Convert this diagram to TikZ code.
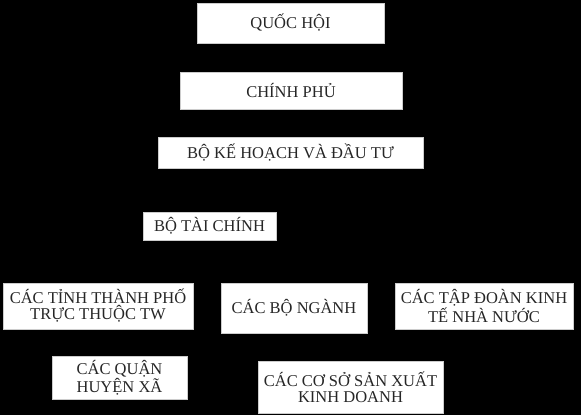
\documentclass[tikz,border=0pt]{standalone}
\usepackage{fontspec}
\setmainfont{Liberation Serif}
\begin{document}
\begin{tikzpicture}
[x=1pt,y=-1pt,
organ/.style={shape=rectangle,fill=white,draw=gray!40,line width=0.3pt,inner sep=1pt,align=center,
  font=\fontsize{16.5}{16}\selectfont,text=black!85}]

%% background
\fill[black] (0,0) rectangle (581,415);
\useasboundingbox (0,0) rectangle (581,415);

%% nodes or vertices
\foreach \nodename/\x/\y/\w/\h/\label in {
quochoi/290.5/23/187/40/{QUỐC HỘI},
chinhphu/291/90.5/222/37/{CHÍNH PHỦ},
bokehoach/290.5/152.5/265/31/{BỘ KẾ HOẠCH VÀ ĐẦU TƯ},
botaichinh/209.5/226/133/28/{BỘ TÀI CHÍNH},
cactinh/98/306/190/46/{CÁC TỈNH THÀNH PHỐ\\TRỰC THUỘC TW},
cacbo/294/308/146/50/{CÁC BỘ NGÀNH},
tapdoan/484/306/178/46/{CÁC TẬP ĐOÀN KINH\\TẾ NHÀ NƯỚC},
quanhuyen/119.5/377.5/135/43/{CÁC QUẬN\\HUYỆN XÃ},
coso/350.5/387/185/52/{CÁC CƠ SỞ SẢN XUẤT\\KINH DOANH}}
{
\node (\nodename) at (\x,\y) [organ,minimum width=\w pt,minimum height=\h pt] {\label};
}

\end{tikzpicture}
\end{document}
